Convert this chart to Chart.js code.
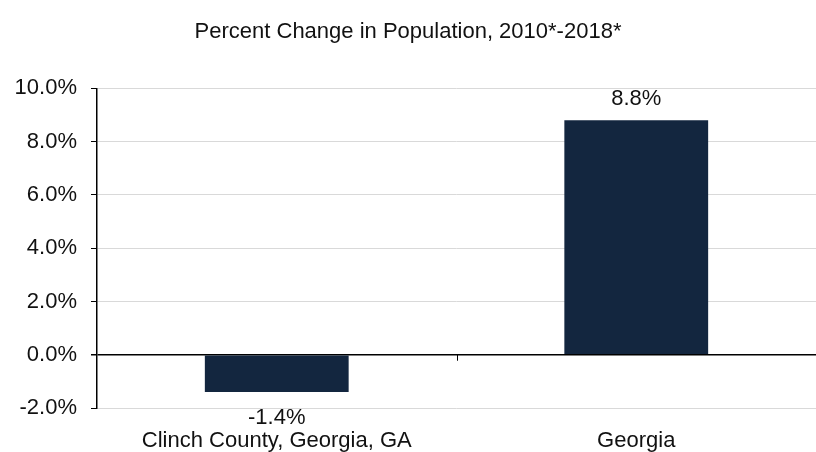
<!DOCTYPE html>
<html>
<head>
<meta charset="utf-8">
<script src="https://cdn.jsdelivr.net/npm/chart.js@4.4.0/dist/chart.umd.min.js"></script>
<style>
  html, body { margin: 0; padding: 0; background: #fff; }
  #wrap { width: 816px; height: 452px; }
</style>
</head>
<body>
<div id="wrap"><canvas id="grafica" width="816" height="452"></canvas></div>
<script>
// Datos
const categorias = ['Clinch County, Georgia, GA', 'Georgia'];
const cambioPoblacion = [-1.4, 8.8];
const ticksY = [-2, 0, 2, 4, 6, 8, 10];

const COLORES = {
    barra: '#13263f',
    rejilla: '#d9d9d9',
    eje: '#000000',
    texto: '#111111'
};

const FUENTE = 'Liberation Sans, Arial, sans-serif';
const TAM = 22;

// Etiquetas de valor y marcas sobre la línea del cero
const extras = {
    id: 'extras',
    afterDatasetsDraw(chart) {
        const ctx = chart.ctx;
        const x = chart.scales.x;
        const y = chart.scales.y;
        const y0 = y.getPixelForValue(0);
        ctx.save();
        // marcas de categoría
        ctx.strokeStyle = COLORES.eje;
        ctx.lineWidth = 1;
        for (let i = 0; i < categorias.length; i++) {
            const px = Math.round(x.getPixelForValue(i) + (x.getPixelForValue(1) - x.getPixelForValue(0)) / 2) + 0.5;
            ctx.beginPath();
            ctx.moveTo(px, y0);
            ctx.lineTo(px, y0 + 6);
            ctx.stroke();
        }
        // valores
        ctx.fillStyle = COLORES.texto;
        ctx.font = TAM + 'px ' + FUENTE;
        ctx.textAlign = 'center';
        chart.getDatasetMeta(0).data.forEach((bar, i) => {
            const v = cambioPoblacion[i];
            const txt = v.toFixed(1) + '%';
            if (v >= 0) {
                ctx.textBaseline = 'bottom';
                ctx.fillText(txt, bar.x, bar.y - 10);
            } else {
                ctx.textBaseline = 'top';
                ctx.fillText(txt, bar.x, bar.y + 15);
            }
        });
        ctx.restore();
    }
};

new Chart(document.getElementById('grafica').getContext('2d'), {
    type: 'bar',
    data: {
        labels: categorias,
        datasets: [{
            data: cambioPoblacion,
            backgroundColor: COLORES.barra,
            borderWidth: 0,
            categoryPercentage: 0.8,
            barPercentage: 0.5
        }]
    },
    options: {
        responsive: false,
        animation: false,
        layout: { padding: { left: 0, right: 0, top: 0, bottom: 0 } },
        scales: {
            x: {
                grid: { display: false, drawTicks: false },
                border: { display: false },
                ticks: {
                    color: COLORES.texto,
                    font: { size: TAM, family: FUENTE },
                    padding: 20,
                    maxRotation: 0
                },
                afterFit(scale) { scale.height = 44; }
            },
            y: {
                min: -2,
                max: 10,
                afterBuildTicks(scale) {
                    scale.ticks = ticksY.map(v => ({ value: v }));
                },
                grid: {
                    color: ctx => (ctx.tick && ctx.tick.value === 0) ? COLORES.eje : COLORES.rejilla,
                    lineWidth: ctx => (ctx.tick && ctx.tick.value === 0) ? 1.5 : 1,
                    tickColor: COLORES.eje,
                    tickLength: 6
                },
                border: { display: true, color: COLORES.eje, width: 1.5 },
                ticks: {
                    color: COLORES.texto,
                    font: { size: TAM, family: FUENTE },
                    padding: 14,
                    callback: v => v.toFixed(1) + '%'
                },
                afterFit(scale) { scale.width = 97; }
            }
        },
        plugins: {
            legend: { display: false },
            tooltip: { enabled: false },
            title: {
                display: true,
                text: 'Percent Change in Population, 2010*-2018*',
                color: COLORES.texto,
                font: { size: TAM, weight: 'normal', family: FUENTE },
                padding: { top: 19, bottom: 43 }
            }
        }
    },
    plugins: [extras]
});
</script>
</body>
</html>
